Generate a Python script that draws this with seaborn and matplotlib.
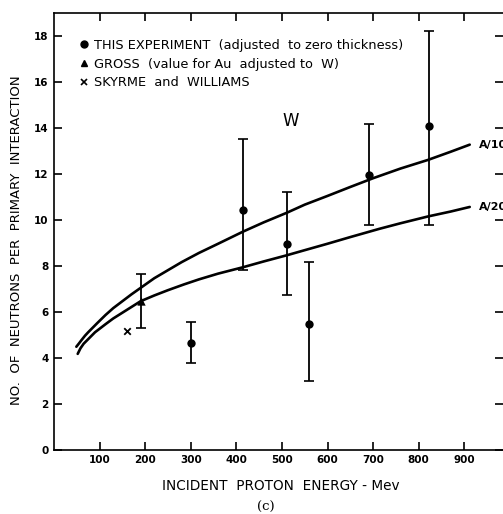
import matplotlib
matplotlib.use("Agg")
import matplotlib.pyplot as plt
import seaborn as sns
import pandas as pd
from matplotlib.lines import Line2D

# ---- data ----
exp_energy = [300, 414, 511, 560, 691, 822]
exp_value = [4.65, 10.42, 8.94, 5.48, 11.93, 14.07]
exp_low = [3.78, 7.80, 6.70, 2.97, 9.75, 9.78]
exp_high = [5.53, 13.50, 11.20, 8.14, 14.17, 18.19]

gross_energy = [190]
gross_value = [6.45]
gross_low = [5.27]
gross_high = [7.62]

sw_energy = [161]
sw_value = [5.16]

a10_energy = [49, 55, 60, 68, 75, 85, 95, 113, 130, 150, 170, 190, 220, 250, 280, 318,
              360, 415, 460, 511, 550, 600, 650, 700, 760, 821, 870, 912]
a10_value = [4.47, 4.62, 4.75, 4.95, 5.10, 5.30, 5.50, 5.85, 6.15, 6.45, 6.75, 7.03,
             7.45, 7.80, 8.15, 8.55, 8.95, 9.48, 9.88, 10.30, 10.65, 11.03, 11.42,
             11.80, 12.22, 12.60, 12.95, 13.26]

a20_energy = [52, 58, 65, 75, 90, 113, 130, 150, 170, 190, 220, 250, 285, 318, 360,
              415, 460, 511, 550, 600, 650, 714, 760, 821, 870, 912]
a20_value = [4.16, 4.40, 4.60, 4.80, 5.10, 5.45, 5.70, 5.95, 6.20, 6.45, 6.70, 6.93,
             7.18, 7.40, 7.65, 7.93, 8.18, 8.45, 8.67, 8.95, 9.24, 9.60, 9.84, 10.14,
             10.35, 10.55]

x_ticks = [100, 200, 300, 400, 500, 600, 700, 800, 900]
y_ticks = [0, 2, 4, 6, 8, 10, 12, 14, 16, 18]

labels = ["THIS EXPERIMENT  (adjusted  to zero thickness)",
          "GROSS  (value for Au  adjusted to  W)",
          "SKYRME  and  WILLIAMS"]

# ---- figure ----
sns.set_style("ticks")
plt.rcParams['font.family'] = ['DejaVu Sans']
plt.rcParams['text.color'] = 'black'
plt.rcParams['axes.labelcolor'] = 'black'
plt.rcParams['xtick.color'] = 'black'
plt.rcParams['ytick.color'] = 'black'

fig = plt.figure(figsize=(5.03, 5.14), dpi=100)
ax = fig.add_axes([54 / 503, 1 - 449.5 / 514, 1 - 54 / 503, (449.5 - 12.7) / 514])

curves = pd.DataFrame({
    "energy": a10_energy + a20_energy,
    "value": a10_value + a20_value,
    "curve": ["A/10"] * len(a10_energy) + ["A/20"] * len(a20_energy),
})
sns.lineplot(data=curves, x="energy", y="value", units="curve", estimator=None,
             color="black", linewidth=1.9, sort=False, ax=ax)

# error bars
exp_err = [[v - l for v, l in zip(exp_value, exp_low)],
           [h - v for v, h in zip(exp_value, exp_high)]]
ax.errorbar(exp_energy, exp_value, yerr=exp_err, fmt="none", ecolor="black",
            elinewidth=1.3, capsize=3.5, capthick=1.2)
gross_err = [[v - l for v, l in zip(gross_value, gross_low)],
             [h - v for v, h in zip(gross_value, gross_high)]]
ax.errorbar(gross_energy, gross_value, yerr=gross_err, fmt="none", ecolor="black",
            elinewidth=1.3, capsize=3.5, capthick=1.2)

sns.scatterplot(x=exp_energy, y=exp_value, marker="o", s=36, color="black",
                edgecolor="black", linewidth=0, ax=ax, zorder=5)
sns.scatterplot(x=gross_energy, y=gross_value, marker="^", s=36, color="black",
                edgecolor="black", linewidth=0, ax=ax, zorder=5)
sns.scatterplot(x=sw_energy, y=sw_value, marker="x", s=22, color="black",
                linewidth=1.3, ax=ax, zorder=5)

ax.set_xlim(0, 985)
ax.set_ylim(0, 19.0)
ax.set_xticks(x_ticks)
ax.set_yticks(y_ticks)
ax.set_xticklabels([str(t) for t in x_ticks], fontsize=7.5, fontweight="bold")
ax.set_yticklabels([str(t) for t in y_ticks], fontsize=7.5, fontweight="bold")
ax.tick_params(direction="in", length=6, width=1.2, top=True, right=True,
               pad=4, colors="black")
for side in ["left", "bottom", "top"]:
    ax.spines[side].set_linewidth(1.2)
    ax.spines[side].set_color("black")
ax.spines["right"].set_visible(False)

ax.set_xlabel("INCIDENT  PROTON  ENERGY - Mev", fontsize=9.8, color="black")
ax.set_ylabel("NO.  OF  NEUTRONS  PER  PRIMARY  INTERACTION", fontsize=9.5, color="black")
ax.xaxis.set_label_coords(0.505, -0.068)
ax.yaxis.set_label_coords(-0.069, 0.479)

# curve labels and panel text
ax.text(932, 13.26, "A/10", fontsize=8, fontweight="bold", va="center", ha="left",
        clip_on=False, color="black")
ax.text(932, 10.55, "A/20", fontsize=8, fontweight="bold", va="center", ha="left",
        clip_on=False, color="black")
ax.text(519, 14.27, "W", fontsize=12, va="center", ha="center", color="black")

handles = [
    Line2D([], [], marker="o", color="black", linestyle="none", markersize=5),
    Line2D([], [], marker="^", color="black", linestyle="none", markersize=5),
    Line2D([], [], marker="x", color="black", linestyle="none", markersize=4, markeredgewidth=1.2),
]
leg = ax.legend(handles, labels, loc="upper left", bbox_to_anchor=(0.044, 0.952),
                frameon=False, fontsize=9.3, handlelength=0.8, handletextpad=0.4,
                labelspacing=0.45, borderaxespad=0)
for t in leg.get_texts():
    t.set_color("black")

fig.text(266 / 503, 1 - 507 / 514, "(c)", fontsize=9.5, family="DejaVu Serif",
         ha="center", va="center", color="black")

fig.savefig("out.png", dpi=100, facecolor="white")
